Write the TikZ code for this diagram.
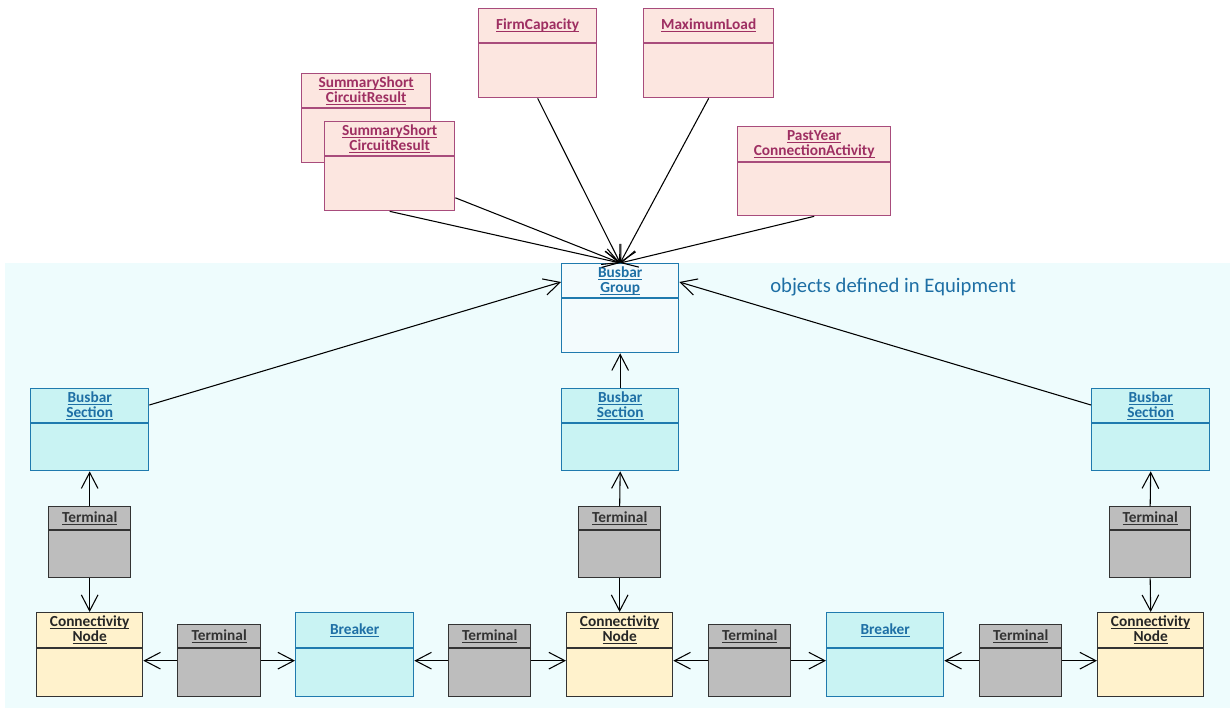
\documentclass[tikz,border=0pt]{standalone}
\usepackage{fontspec}
\setmainfont{Carlito}
\usetikzlibrary{arrows.meta,calc}
\definecolor{bgc}{HTML}{EEFCFD}
\definecolor{pkfill}{HTML}{FCE6E0}
\definecolor{pkline}{HTML}{A84C7C}
\definecolor{pktext}{HTML}{9E2F62}
\definecolor{bgfill}{HTML}{F3FBFD}
\definecolor{blline}{HTML}{1F7AAE}
\definecolor{bltext}{HTML}{1E6FA5}
\definecolor{cyfill}{HTML}{C9F3F3}
\definecolor{grfill}{HTML}{BDBDBD}
\definecolor{grline}{HTML}{333333}
\definecolor{ylfill}{HTML}{FFF2CC}
\newcommand{\uu}[1]{\underline{\raisebox{0pt}[\height][0pt]{#1}}}
\newcommand{\umlbox}[8]{%
\node[#7,anchor=north west,minimum width=#4*0.75pt,minimum height=#5*0.75pt,inner sep=0pt] (#1) at (#2,#3) {};
\draw[#7] ($(#1.north west)+(0,#6)$) -- ($(#1.north east)+(0,#6)$);
\node[#7txt] (#1-t) at ($(#1.north)+(0,#6/2)$) {#8};}
\begin{document}
\begin{tikzpicture}[x=0.75pt,y=-0.75pt,
  basetxt/.style={inner sep=0pt,align=center,font=\fontsize{11.5}{11.3}\selectfont\bfseries},
  pinkbox/.style={draw=pkline,fill=pkfill,line width=1pt},
  pinkboxtxt/.style={basetxt,text=pktext},
  groupbox/.style={draw=blline,fill=bgfill,line width=1pt},
  groupboxtxt/.style={basetxt,text=bltext},
  cyanbox/.style={draw=blline,fill=cyfill,line width=1pt},
  cyanboxtxt/.style={basetxt,text=bltext},
  greybox/.style={draw=grline,fill=grfill,line width=1pt},
  greyboxtxt/.style={basetxt,text=grline},
  cnbox/.style={draw=grline,fill=ylfill,line width=1pt},
  cnboxtxt/.style={basetxt,text=black!85},
  conn/.style={draw=black,line width=0.8pt,-{Straight Barb[length=12pt,width=12.5pt]}}]
\useasboundingbox (0,0) rectangle (1230,708);
\fill[bgc] (5,263) rectangle (1230,708);
\node[text=bltext,font=\fontsize{15.5}{17}\selectfont,anchor=west,inner sep=0pt] (lbl) at (770,287) {objects defined in Equipment};
% pink boxes
\umlbox{sscra}{301}{73}{129}{89}{35}{pinkbox}{\uu{SummaryShort}\\\uu{CircuitResult}}
\umlbox{sscrb}{324}{121}{130}{89}{35}{pinkbox}{\uu{SummaryShort}\\\uu{CircuitResult}}
\umlbox{firm}{478}{8}{118}{89}{35}{pinkbox}{\uu{FirmCapacity}}
\umlbox{maxl}{643}{8}{130}{89}{35}{pinkbox}{\uu{MaximumLoad}}
\umlbox{past}{737}{126}{153}{89}{36}{pinkbox}{\uu{PastYear}\\\uu{ConnectionActivity}}
% busbar group
\umlbox{bg}{561}{263}{117}{89}{35}{groupbox}{\uu{Busbar}\\\uu{Group}}
% busbar sections
\umlbox{bs1}{30}{388}{118}{82}{35}{cyanbox}{\uu{Busbar}\\\uu{Section}}
\umlbox{bs2}{561}{388}{117}{82}{35}{cyanbox}{\uu{Busbar}\\\uu{Section}}
\umlbox{bs3}{1091}{388}{118}{82}{35}{cyanbox}{\uu{Busbar}\\\uu{Section}}
% vertical terminals
\umlbox{tv1}{48}{506}{82}{71}{24}{greybox}{\uu{Terminal}}
\umlbox{tv2}{578}{506}{82}{71}{24}{greybox}{\uu{Terminal}}
\umlbox{tv3}{1109}{506}{81}{71}{24}{greybox}{\uu{Terminal}}
% bottom row
\umlbox{cn1}{36}{612}{106}{84}{36}{cnbox}{\uu{Connectivity}\\\uu{Node}}
\umlbox{th1}{177}{624}{83}{72}{24}{greybox}{\uu{Terminal}}
\umlbox{br1}{295}{612}{118}{84}{36}{cyanbox}{\uu{Breaker}}
\umlbox{th2}{448}{624}{82}{72}{24}{greybox}{\uu{Terminal}}
\umlbox{cn2}{566}{612}{106}{84}{36}{cnbox}{\uu{Connectivity}\\\uu{Node}}
\umlbox{th3}{708}{624}{82}{72}{24}{greybox}{\uu{Terminal}}
\umlbox{br2}{826}{612}{117}{84}{36}{cyanbox}{\uu{Breaker}}
\umlbox{th4}{979}{624}{82}{72}{24}{greybox}{\uu{Terminal}}
\umlbox{cn3}{1097}{612}{106}{84}{36}{cnbox}{\uu{Connectivity}\\\uu{Node}}
% connectors to busbar group
\draw[conn] (sscrb.south) -- (bg.north);
\draw[conn] ($(sscrb.north east)!0.85!(sscrb.south east)$) -- (bg.north);
\draw[conn] (firm.south) -- (bg.north);
\draw[conn] (maxl.south) -- (bg.north);
\draw[conn] (past.south) -- (bg.north);
\draw[conn] ($(bs1.north east)+(0,17)$) -- ($(bg.north west)+(0,19)$);
\draw[conn] ($(bs3.north west)+(0,17)$) -- ($(bg.north east)+(0,19)$);
\draw[conn] (bs2.north) -- (bg.south);
% terminals
\draw[conn] (tv1.north) -- (bs1.south);
\draw[conn] (tv1.south) -- (cn1.north);
\draw[conn] (tv2.north) -- (bs2.south);
\draw[conn] (tv2.south) -- (cn2.north);
\draw[conn] (tv3.north) -- (bs3.south);
\draw[conn] (tv3.south) -- (cn3.north);
\draw[conn] (th1.west) -- (th1.west -| cn1.east);
\draw[conn] (th1.east) -- (th1.east -| br1.west);
\draw[conn] (th2.west) -- (th2.west -| br1.east);
\draw[conn] (th2.east) -- (th2.east -| cn2.west);
\draw[conn] (th3.west) -- (th3.west -| cn2.east);
\draw[conn] (th3.east) -- (th3.east -| br2.west);
\draw[conn] (th4.west) -- (th4.west -| br2.east);
\draw[conn] (th4.east) -- (th4.east -| cn3.west);
\end{tikzpicture}
\end{document}
